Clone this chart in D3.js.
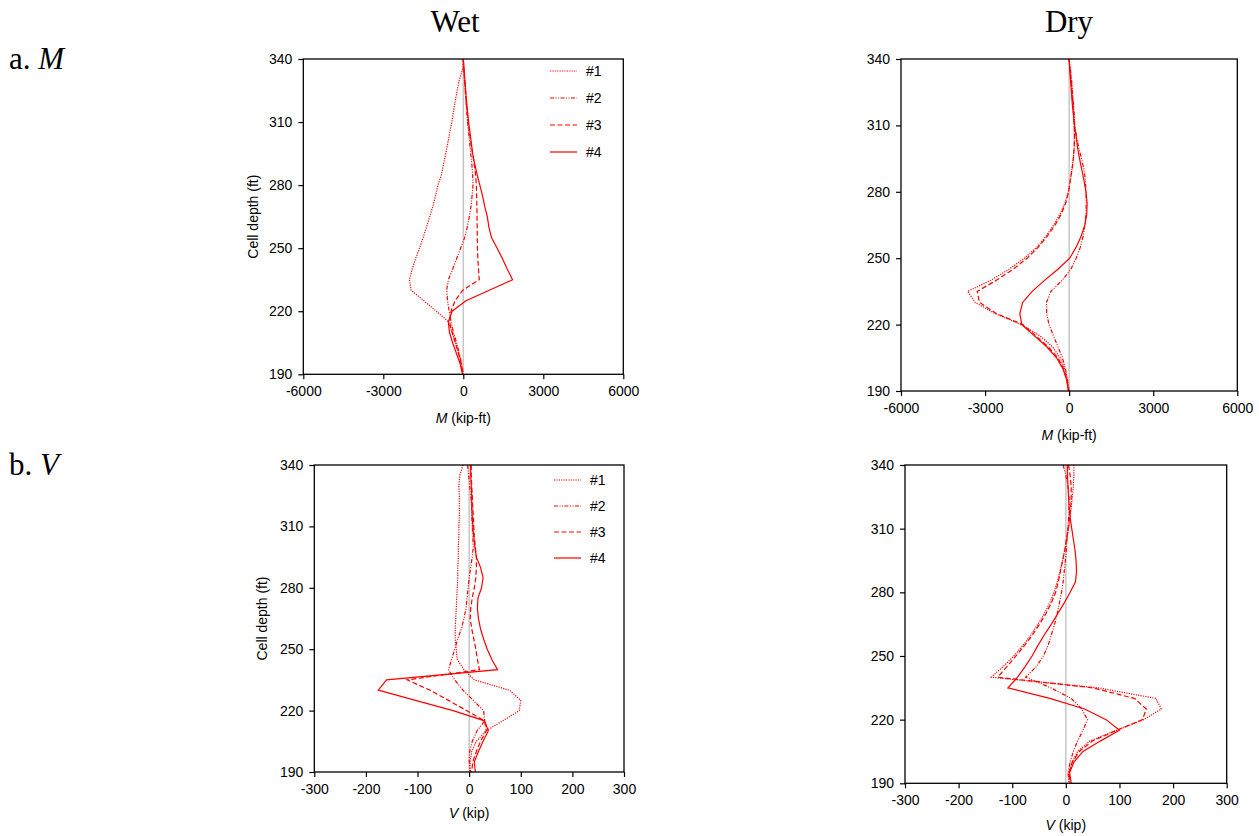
<!DOCTYPE html>
<html>
<head>
<meta charset="utf-8">
<script src="https://cdn.jsdelivr.net/npm/d3@7"></script>
<style>
  body { margin: 0; background: #fff; }
  svg { display: block; }
  .tick text { font-family: "Liberation Sans", Arial, sans-serif; font-size: 14px; fill: #000; }
</style>
</head>
<body>
<div class="container"></div>
<script>
const width = 1259;
const height = 836;

// cell depth (ft) of every point, top to bottom
const depths = [340, 335, 330, 325, 320, 315, 310, 305, 300, 295, 290, 285, 280, 275, 270, 265,
  260, 255, 250, 245, 240, 235, 230, 225, 220, 215, 210, 205, 200, 195, 190];

const seriesNames = ["#1", "#2", "#3", "#4"];

// moment M (kip-ft), wet
const mWet1 = [0, -30, -150, -230, -300, -370, -430, -510, -580, -660, -740, -820, -950, -1040, -1140, -1260,
  -1380, -1510, -1640, -1790, -1920, -2020, -1960, -1480, -1010, -560, -420, -290, -170, -80, -20];
const mWet2 = [0, 20, 45, 70, 100, 130, 160, 200, 240, 280, 320, 350, 365, 330, 290, 225,
  150, 50, -100, -250, -400, -560, -625, -590, -530, -460, -370, -250, -150, -60, 0];
const mWet3 = [0, 20, 50, 80, 110, 140, 180, 230, 290, 350, 410, 460, 490, 500, 510, 515,
  520, 525, 530, 545, 570, 600, -20, -310, -460, -520, -420, -300, -180, -80, -10];
const mWet4 = [0, 30, 60, 90, 120, 160, 200, 250, 300, 350, 430, 520, 620, 720, 800, 900,
  960, 1060, 1270, 1470, 1650, 1850, 975, 100, -420, -560, -520, -400, -260, -120, -30];

// moment M (kip-ft), dry
const mDry1 = [0, 30, 80, 110, 140, 160, 180, 190, 180, 150, 100, 40, -30, -150, -320, -550,
  -820, -1150, -1600, -2150, -2800, -3620, -3350, -2650, -1700, -1050, -600, -320, -160, -70, 0];
const mDry2 = [0, 50, 90, 120, 150, 180, 200, 260, 340, 440, 530, 580, 600, 610, 600, 560,
  500, 400, 250, 60, -250, -650, -810, -800, -720, -560, -400, -240, -130, -60, -20];
const mDry3 = [0, 30, 70, 100, 130, 160, 180, 190, 180, 150, 100, 40, -20, -120, -280, -500,
  -780, -1100, -1500, -2000, -2600, -3280, -3200, -2600, -1650, -1200, -750, -400, -200, -80, 0];
const mDry4 = [0, 20, 50, 80, 110, 150, 190, 250, 300, 370, 450, 530, 600, 640, 630, 560,
  430, 250, 20, -400, -880, -1320, -1660, -1760, -1690, -1250, -800, -450, -220, -90, -30];

// shear V (kip), wet
const vWet1 = [-12, -18, -20, -19, -19, -19, -20, -20, -21, -21, -22, -22, -23, -24, -25, -26,
  -27, -27, -25, -23, -10, 10, 78, 100, 97, 65, 32, 14, 5, 2, 1];
const vWet2 = [-3, -1, 1, 3, 5, 5, 6, 7, 8, 6, 3, 0, -2, -4, -6, -10,
  -15, -22, -28, -34, -40, -28, -12, 8, 28, 30, 15, 6, 1, 0, 3];
const vWet3 = [4, 4, 5, 6, 7, 8, 9, 10, 12, 14, 14, 13, 10, 6, 3, 2,
  5, 9, 13, 16, 20, -120, -76, -40, -5, 30, 33, 22, 14, 7, 5];
const vWet4 = [3, 3, 4, 5, 5, 6, 7, 9, 11, 14, 22, 27, 24, 17, 16, 18,
  22, 28, 35, 44, 55, -160, -176, -104, -31, 30, 37, 27, 18, 10, 12];

// shear V (kip), dry
const vDry1 = [15, 15, 14, 12, 10, 8, 5, 2, -2, -6, -11, -16, -22, -30, -40, -52,
  -65, -80, -97, -117, -139, 60, 168, 178, 145, 95, 45, 22, 12, 5, 6];
const vDry2 = [-5, 0, 4, 6, 6, 5, 4, 2, 1, -1, -3, -5, -8, -12, -16, -21,
  -27, -33, -42, -55, -75, -28, 10, 30, 40, 32, 22, 14, 8, 4, 6];
const vDry3 = [5, 8, 10, 10, 9, 7, 4, 1, -2, -6, -10, -14, -19, -27, -37, -49,
  -62, -77, -93, -110, -127, 50, 128, 150, 143, 95, 50, 25, 12, 6, 8];
const vDry4 = [3, 3, 4, 5, 6, 8, 11, 14, 17, 19, 20, 18, 8, -3, -15, -27,
  -40, -52, -63, -76, -90, -108, -30, 35, 75, 100, 65, 32, 15, 7, 10];

const depthTicks = [190, 220, 250, 280, 310, 340];
const mTicks = [-6000, -3000, 0, 3000, 6000];
const vTicks = [-300, -200, -100, 0, 100, 200, 300];

// #1 dotted, #2 dash-dot-dot, #3 dashed, #4 solid
const dashes = ["1.2,1.2", "4,1.5,1,1.5,1,1.5", "5,2.5", null];

const sansFont = '"Liberation Sans", Arial, sans-serif';
const serifFont = '"Liberation Serif", "Times New Roman", serif';

const svg = d3.select(".container")
    .append("svg")
    .attr("width", width)
    .attr("height", height);

// headings
svg.append("text").attr("x", 455).attr("y", 32).attr("text-anchor", "middle")
    .attr("font-family", serifFont).attr("font-size", 31).text("Wet");
svg.append("text").attr("x", 1069).attr("y", 32).attr("text-anchor", "middle")
    .attr("font-family", serifFont).attr("font-size", 31).text("Dry");

function rowLabel(y, letter, v) {
    const t = svg.append("text").attr("x", 9).attr("y", y)
        .attr("font-family", serifFont).attr("font-size", 31);
    t.append("tspan").text(letter + " ");
    t.append("tspan").attr("font-style", "italic").text(v);
}
rowLabel(69, "a.", "M");
rowLabel(475, "b.", "V");

const panels = [
    { left: 303.3, right: 623.3, top: 59, bottom: 374.3, xDomain: [-6000, 6000], xTicks: mTicks,
      series: [mWet1, mWet2, mWet3, mWet4], varName: "M", unit: " (kip-ft)", titleY: 423,
      yLabelX: 258, legend: { x: 550, y: 71, step: 27 } },
    { left: 901, right: 1237.3, top: 59, bottom: 391, xDomain: [-6000, 6000], xTicks: mTicks,
      series: [mDry1, mDry2, mDry3, mDry4], varName: "M", unit: " (kip-ft)", titleY: 440 },
    { left: 314.3, right: 624, top: 465, bottom: 772, xDomain: [-300, 300], xTicks: vTicks,
      series: [vWet1, vWet2, vWet3, vWet4], varName: "V", unit: " (kip)", titleY: 818,
      yLabelX: 267, legend: { x: 554, y: 480, step: 26 } },
    { left: 905, right: 1226.7, top: 465, bottom: 783.3, xDomain: [-300, 300], xTicks: vTicks,
      series: [vDry1, vDry2, vDry3, vDry4], varName: "V", unit: " (kip)", titleY: 830 }
];

panels.forEach(drawPanel);

function drawPanel(p) {
    const x = d3.scaleLinear().domain(p.xDomain).range([p.left, p.right]);
    const y = d3.scaleLinear().domain([190, 340]).range([p.bottom, p.top]);
    const g = svg.append("g");

    // zero line
    g.append("line")
        .attr("x1", x(0)).attr("x2", x(0))
        .attr("y1", y(190)).attr("y2", y(340))
        .attr("stroke", "#c6c6c6")
        .attr("stroke-width", 1.5);

    const line = d3.line()
        .x(d => x(d[0]))
        .y(d => y(d[1]));

    p.series.forEach((vals, i) => {
        const pts = vals.map((v, k) => [v, depths[k]]);
        g.append("path")
            .datum(pts)
            .attr("d", line)
            .attr("fill", "none")
            .attr("stroke", "#ff0000")
            .attr("stroke-width", 1.2)
            .attr("stroke-dasharray", dashes[i]);
    });

    // frame
    g.append("rect")
        .attr("x", p.left).attr("y", p.top)
        .attr("width", p.right - p.left).attr("height", p.bottom - p.top)
        .attr("fill", "none")
        .attr("stroke", "#000")
        .attr("stroke-width", 1.3);

    const yAxis = g.append("g")
        .attr("transform", `translate(${p.left},0)`)
        .call(d3.axisLeft(y).tickValues(depthTicks).tickSize(5).tickSizeOuter(0).tickPadding(6));
    yAxis.select(".domain").remove();

    // plain hyphen for negatives, as in the original
    const xAxis = g.append("g")
        .attr("transform", `translate(0,${p.bottom})`)
        .call(d3.axisBottom(x).tickValues(p.xTicks).tickSize(5).tickSizeOuter(0).tickPadding(7)
            .tickFormat(d => String(d)));
    xAxis.select(".domain").remove();
    g.selectAll(".tick line").attr("stroke", "#000").attr("stroke-width", 1.2);

    // x title
    const xt = g.append("text")
        .attr("x", (p.left + p.right) / 2)
        .attr("y", p.titleY)
        .attr("text-anchor", "middle")
        .attr("font-family", sansFont)
        .attr("font-size", 14);
    xt.append("tspan").attr("font-style", "italic").text(p.varName);
    xt.append("tspan").text(p.unit);

    if (p.yLabelX) {
        g.append("text")
            .attr("transform", `translate(${p.yLabelX},${(p.top + p.bottom) / 2}) rotate(-90)`)
            .attr("text-anchor", "middle")
            .attr("font-family", sansFont)
            .attr("font-size", 14)
            .text("Cell depth (ft)");
    }

    if (p.legend) {
        const lg = g.append("g");
        seriesNames.forEach((name, i) => {
            const ly = p.legend.y + i * p.legend.step;
            lg.append("line")
                .attr("x1", p.legend.x).attr("x2", p.legend.x + 27)
                .attr("y1", ly).attr("y2", ly)
                .attr("stroke", "#ff0000")
                .attr("stroke-width", 1.2)
                .attr("stroke-dasharray", dashes[i]);
            lg.append("text")
                .attr("x", p.legend.x + 36)
                .attr("y", ly)
                .attr("dy", "0.35em")
                .attr("font-family", sansFont)
                .attr("font-size", 14)
                .text(name);
        });
    }
}
</script>
</body>
</html>
